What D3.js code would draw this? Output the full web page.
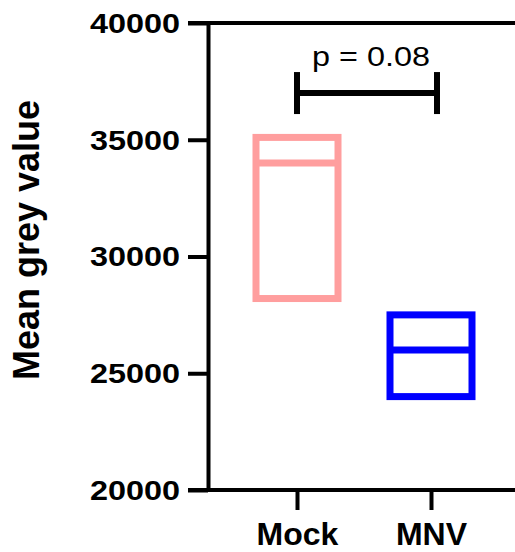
<!DOCTYPE html>
<html>
<head>
<meta charset="utf-8">
<script src="https://cdn.jsdelivr.net/npm/d3@7"></script>
<style>
  body { margin: 0; background: #fff; }
  svg { display: block; font-family: "Liberation Sans", Arial, sans-serif; }
</style>
</head>
<body>
<div id="chart"></div>
<script>
// Data: floating bars (min to max, line at mean)
const groups = ["Mock", "MNV"];
const minValues = [28200, 24000];
const maxValues = [35100, 27500];
const meanValues = [34000, 26000];
const colors = ["#ff9e9e", "#0000ff"];
const yTicks = [20000, 25000, 30000, 35000, 40000];
const pLabel = "p = 0.08";
const bracketValue = 37000;

const W = 515, H = 552;
const margin = { top: 23, right: 0, bottom: 62, left: 208 };

const svg = d3.select("#chart").append("svg")
    .attr("width", W)
    .attr("height", H);

const y = d3.scaleLinear()
    .domain([20000, 40000])
    .range([H - margin.bottom, margin.top]);

const x = d3.scalePoint()
    .domain(groups)
    .range([297, 431]);

const boxHalf = 41;

const data = groups.map((g, i) => ({
    group: g, min: minValues[i], max: maxValues[i], mean: meanValues[i], color: colors[i]
}));

// Top line at 40000
svg.append("line")
    .attr("x1", margin.left - 20).attr("x2", W)
    .attr("y1", y(40000)).attr("y2", y(40000))
    .attr("stroke", "#000").attr("stroke-width", 4);

// Y axis
const yAxis = svg.append("g")
    .attr("transform", `translate(${margin.left},0)`)
    .call(d3.axisLeft(y).tickValues(yTicks).tickFormat(d3.format("d")).tickSize(20).tickSizeOuter(0));
yAxis.select(".domain").attr("stroke-width", 4);
yAxis.selectAll(".tick line").attr("stroke-width", 4);
yAxis.selectAll(".tick text")
    .attr("x", 0)
    .attr("dy", "0.35em")
    .attr("transform", "translate(-28,0) scale(1.2,1)")
    .style("font-size", "27px")
    .style("font-weight", "bold")
    .style("font-family", "'Liberation Sans', Arial, sans-serif")
    .attr("fill", "#000");

// X axis
const xAxisLine = svg.append("line")
    .attr("x1", margin.left - 20).attr("x2", W)
    .attr("y1", y(20000)).attr("y2", y(20000))
    .attr("stroke", "#000").attr("stroke-width", 4);

const xAxis = svg.append("g")
    .attr("transform", `translate(0,${y(20000)})`)
    .call(d3.axisBottom(x).tickSize(20).tickSizeOuter(0));
xAxis.select(".domain").remove();
xAxis.selectAll(".tick line").attr("stroke-width", 4);
xAxis.selectAll(".tick text")
    .attr("y", 55)
    .attr("dy", 0)
    .style("font-size", "32px")
    .style("font-weight", "bold")
    .style("font-family", "'Liberation Sans', Arial, sans-serif")
    .attr("fill", "#000");

// Y axis title
svg.append("text")
    .attr("transform", `translate(39,240) rotate(-90)`)
    .attr("text-anchor", "middle")
    .style("font-size", "36px")
    .style("font-weight", "bold")
    .text("Mean grey value");

// Floating bars
const bars = svg.selectAll("g.bar")
    .data(data)
    .enter()
    .append("g")
    .attr("class", "bar");

bars.append("rect")
    .attr("x", d => x(d.group) - boxHalf)
    .attr("y", d => y(d.max))
    .attr("width", boxHalf * 2)
    .attr("height", d => y(d.min) - y(d.max))
    .attr("fill", "none")
    .attr("stroke", d => d.color)
    .attr("stroke-width", 7);

bars.append("line")
    .attr("x1", d => x(d.group) - boxHalf)
    .attr("x2", d => x(d.group) + boxHalf)
    .attr("y1", d => y(d.mean))
    .attr("y2", d => y(d.mean))
    .attr("stroke", d => d.color)
    .attr("stroke-width", 7);

// Significance bracket
const bx1 = x(groups[0]), bx2 = x(groups[1]) + 6, by = y(bracketValue);
const bracket = svg.append("g").attr("stroke", "#000").attr("stroke-width", 6);
bracket.append("line").attr("x1", bx1).attr("x2", bx2).attr("y1", by).attr("y2", by);
bracket.append("line").attr("x1", bx1).attr("x2", bx1).attr("y1", by - 21).attr("y2", by + 21);
bracket.append("line").attr("x1", bx2).attr("x2", bx2).attr("y1", by - 21).attr("y2", by + 21);

svg.append("text")
    .attr("transform", `translate(${(bx1 + bx2) / 2 + 4},66) scale(1.2,1)`)
    .attr("text-anchor", "middle")
    .style("font-size", "27px")
    .text(pLabel);
</script>
</body>
</html>
